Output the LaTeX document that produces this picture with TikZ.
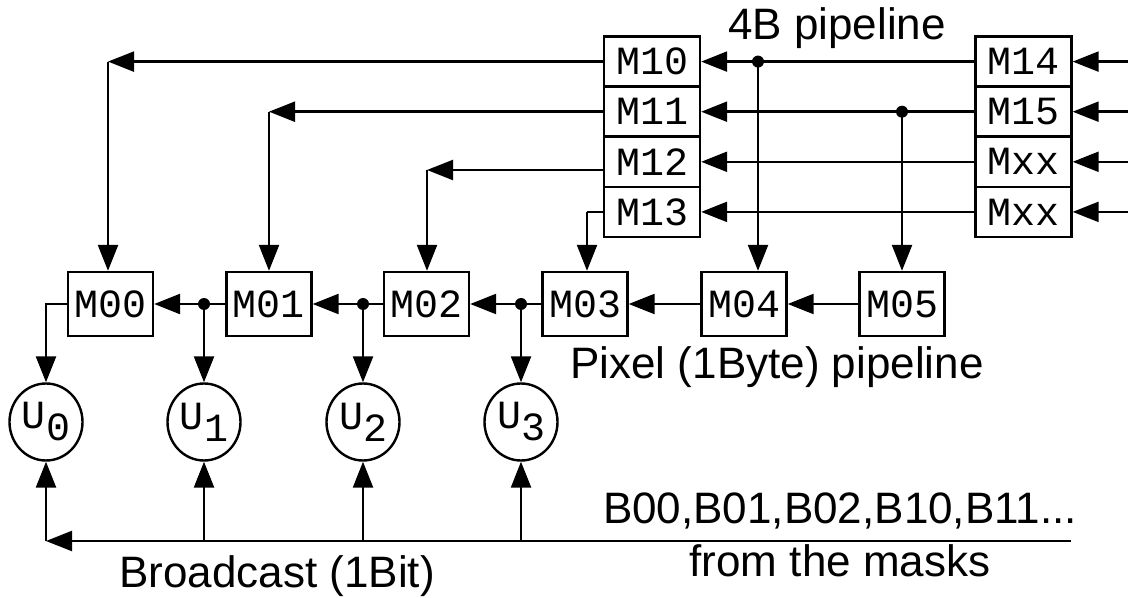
\documentclass[tikz,border=0pt]{standalone}
\usepackage{fontspec}
\setsansfont{Liberation Sans}
\setmonofont{Liberation Mono}
\usetikzlibrary{arrows.meta,shapes.geometric}

\begin{document}
\begin{tikzpicture}[x=0.5pt, y=-0.5pt,
  reg/.style={draw, line width=1.2pt, inner sep=0pt, minimum width=42.5pt, minimum height=32pt, font=\ttfamily\fontsize{20}{20}\selectfont},
  row/.style={reg, minimum width=48pt, minimum height=25pt},
  unit/.style={draw, ellipse, line width=1.2pt, inner sep=0pt, minimum width=36.5pt, minimum height=38.5pt, font=\ttfamily\fontsize{20}{20}\selectfont},
  wire/.style={line width=1.2pt},
  arr/.style={wire, -{Triangle[length=13pt, width=10pt]}},
  lbl/.style={anchor=base, inner sep=0pt, font=\sffamily\fontsize{22}{22}\selectfont}]
  \useasboundingbox (0,0) rectangle (1128,598);
  \node[row] (M10) at (652,61.6) {M10};
  \node[row] (M11) at (652,111.7) {M11};
  \node[row] (M12) at (652,161.8) {M12};
  \node[row] (M13) at (652,211.9) {M13};
  \node[row] (M14) at (1023.5,61.6) {M14};
  \node[row] (M15) at (1023.5,111.7) {M15};
  \node[row] (Mx1) at (1023.5,161.8) {Mxx};
  \node[row] (Mx2) at (1023.5,211.9) {Mxx};
  \node[reg] (M00) at (110.5,304) {M00};
  \node[reg] (M01) at (269,304) {M01};
  \node[reg] (M02) at (426.5,304) {M02};
  \node[reg] (M03) at (585,304) {M03};
  \node[reg] (M04) at (744,304) {M04};
  \node[reg] (M05) at (902,304) {M05};
  \node[unit] (U0) at (46,422) {U\raisebox{-6pt}{0}};
  \node[unit] (U1) at (204,422) {U\raisebox{-6pt}{1}};
  \node[unit] (U2) at (363,422) {U\raisebox{-6pt}{2}};
  \node[unit] (U3) at (521,422) {U\raisebox{-6pt}{3}};
  \coordinate (i0) at (1128,61.6);
  \coordinate (i1) at (1128,111.7);
  \coordinate (i2) at (1128,161.8);
  \coordinate (i3) at (1128,211.9);
  \draw[arr] (i0) -- (M14.east);
  \draw[arr] (i1) -- (M15.east);
  \draw[arr] (i2) -- (Mx1.east);
  \draw[arr] (i3) -- (Mx2.east);
  \draw[arr] (M14.west) -- (M10.east);
  \draw[arr] (M15.west) -- (M11.east);
  \draw[arr] (Mx1.west) -- (M12.east);
  \draw[arr] (Mx2.west) -- (M13.east);
  \coordinate (t0) at (758,61.6);
  \coordinate (t1) at (902,111.7);
  \fill (t0) circle[radius=3pt];
  \fill (t1) circle[radius=3pt];
  \draw[arr] (t0) -- (t0 |- M04.north);
  \draw[arr] (t1) -- (t1 |- M05.north);
  \coordinate (c0) at (108,61.6);
  \coordinate (c1) at (269,111.7);
  \coordinate (c2) at (427,170);
  \coordinate (c3) at (587,211.9);
  \draw[arr] (M10.west) -- (c0);
  \draw[arr] (c0) -- (c0 |- M00.north);
  \draw[arr] (M11.west) -- (c1);
  \draw[arr] (c1) -- (c1 |- M01.north);
  \draw[arr] (c2 -| M12.west) -- (c2);
  \draw[arr] (c2) -- (c2 |- M02.north);
  \draw[wire] (M13.west) -- (c3);
  \draw[arr] (c3) -- (c3 |- M03.north);
  \draw[arr] (M05.west) -- (M04.east);
  \draw[arr] (M04.west) -- (M03.east);
  \draw[arr] (M03.west) -- (M02.east);
  \draw[arr] (M02.west) -- (M01.east);
  \draw[arr] (M01.west) -- (M00.east);
  \coordinate (j0) at (204,304);
  \coordinate (j1) at (363,304);
  \coordinate (j2) at (521,304);
  \fill (j0) circle[radius=3pt];
  \fill (j1) circle[radius=3pt];
  \fill (j2) circle[radius=3pt];
  \draw[arr] (j0) -- (U1.north);
  \draw[arr] (j1) -- (U2.north);
  \draw[arr] (j2) -- (U3.north);
  \draw[arr] (M00.west) -| (U0.north);
  \coordinate (bs) at (1071,541);
  \coordinate (be) at (46,541);
  \draw[arr] (bs) -- (be);
  \draw[arr] (be) -- (U0.south);
  \draw[arr] (U1 |- bs) -- (U1.south);
  \draw[arr] (U2 |- bs) -- (U2.south);
  \draw[arr] (U3 |- bs) -- (U3.south);
  \node[lbl] (t4b) at (837,40) {4B pipeline};
  \node[lbl] (tpx) at (777,378) {Pixel (1Byte) pipeline};
  \node[lbl] (tbits) at (840,523) {B00,B01,B02,B10,B11...};
  \node[lbl] (tmask) at (840,576) {from the masks};
  \node[lbl] (tbc) at (277,587) {Broadcast (1Bit)};
\end{tikzpicture}
\end{document}
